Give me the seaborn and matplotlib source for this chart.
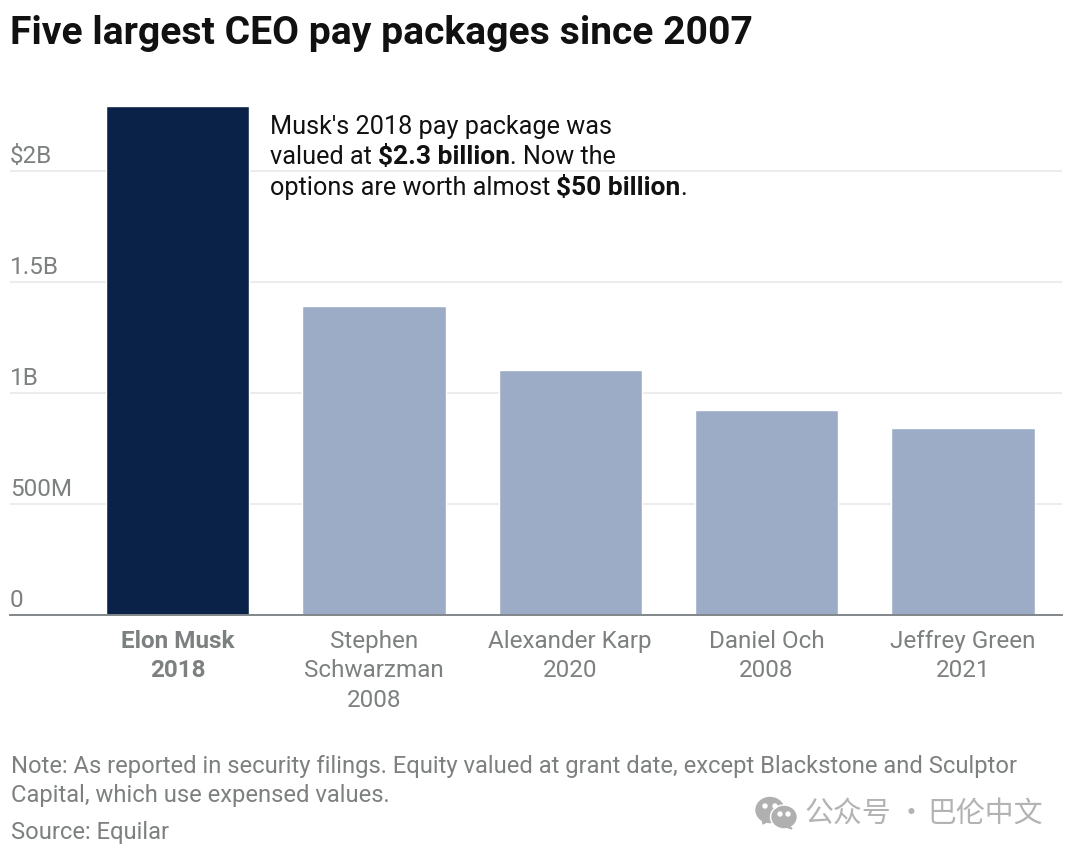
import matplotlib
matplotlib.use("Agg")
import matplotlib.pyplot as plt
import seaborn as sns
from matplotlib.patches import Ellipse, Polygon
from matplotlib.transforms import ScaledTranslation

names = ["Elon Musk\n2018", "Stephen\nSchwarzman\n2008", "Alexander Karp\n2020", "Daniel Och\n2008", "Jeffrey Green\n2021"]
pay_billions = [2.29, 1.39, 1.103, 0.923, 0.84]
bar_colors = ["#0a2247", "#9dacc6", "#9dacc6", "#9dacc6", "#9dacc6"]
y_ticks = [0, 0.5, 1, 1.5, 2]
y_labels = ["0", "500M", "1B", "1.5B", "$2B"]

title = "Five largest CEO pay packages since 2007"
note_lines = [
    "Note: As reported in security filings. Equity valued at grant date, except Blackstone and Sculptor",
    "Capital, which use expensed values.",
]
source = "Source: Equilar"
callout = [
    [("Musk's 2018 pay package was", "normal")],
    [("valued at ", "normal"), ("$2.3 billion", "bold"), (". Now the", "normal")],
    [("options are worth almost ", "normal"), ("$50 billion", "bold"), (".", "normal")],
]
watermark_parts = ["公众号", "·", "巴伦中文"]

GREY = "#7d8080"
W, H = 1080, 856
sns.set_theme(style="white")
plt.rcParams["font.family"] = ["Roboto", "DejaVu Sans"]

fig = plt.figure(figsize=(W / 100, H / 100), dpi=100, facecolor="white")

# axes box in pixels: x 10-1062, y 90-614.5, 222px per billion
ax = fig.add_axes([10 / W, 1 - 614.5 / H, 1052 / W, 524.5 / H])
sns.barplot(x=names, y=pay_billions, hue=names, palette=bar_colors, width=0.73,
            saturation=1, legend=False, ax=ax, zorder=3)
ax.set_xlim(-0.854, 4.505)
ax.set_ylim(0, 524.5 / 222)
ax.set_facecolor("none")

ax.set_yticks(y_ticks)
ax.set_yticklabels(y_labels)
ax.yaxis.grid(True, color="#e8eaec", linewidth=1.3, zorder=0)
ax.set_axisbelow(True)
ax.tick_params(axis="y", length=0, pad=0, labelsize=17.5, labelcolor=GREY)
lift = ScaledTranslation(0, 2 / 72, fig.dpi_scale_trans)
for lab in ax.get_yticklabels():
    lab.set_ha("left")
    lab.set_va("bottom")
    lab.set_transform(lab.get_transform() + lift)
ax.tick_params(axis="x", length=0, pad=11, labelsize=17.5, labelcolor=GREY)
for i, lab in enumerate(ax.get_xticklabels()):
    lab.set_linespacing(1.37)
    if i == 0:
        lab.set_fontweight("bold")

for side in ["top", "left", "right"]:
    ax.spines[side].set_visible(False)
ax.spines["bottom"].set_color("#80868a")
ax.spines["bottom"].set_linewidth(1.4)
ax.spines["bottom"].set_zorder(5)

# overlay in pixel coordinates for the free text
page = fig.add_axes([0, 0, 1, 1])
page.set_xlim(0, W)
page.set_ylim(H, 0)
page.axis("off")
page.patch.set_alpha(0)

page.text(10, 44, title, fontsize=28.1, fontweight="bold", color="#111111")
for line, y in zip(note_lines, [773, 802]):
    page.text(11, y, line, fontsize=17.1, color=GREY)
page.text(11, 839, source, fontsize=17.1, color=GREY)

fig.canvas.draw()
renderer = fig.canvas.get_renderer()
for parts, y in zip(callout, [134, 164, 195]):
    x = 270
    for chunk, weight in parts:
        size = 19 if weight == "bold" else 18.15
        t = page.text(x, y, chunk, fontsize=size, fontweight=weight, color="#111111")
        x += t.get_window_extent(renderer).width

# WeChat mark
mark = "#b0b0b0"
page.add_patch(Ellipse((770, 810), 28, 25, color=mark))
page.add_patch(Polygon([[762, 818], [763, 824], [770, 820]], color=mark))
page.add_patch(Ellipse((784, 817), 27, 24, color="white"))
page.add_patch(Ellipse((784, 817), 24, 21, color=mark))
page.add_patch(Polygon([[788, 824], [792, 829], [780, 825]], color=mark))
for cx, cy in [[765, 806], [775, 806], [780, 814], [788, 814]]:
    page.add_patch(Ellipse((cx, cy), 4, 4, color="white"))
for chunk, x in zip(watermark_parts, [805, 897, 927]):
    page.text(x, 814, chunk, fontsize=20.8, color="#b3b3b3", va="center",
              family=["Noto Sans CJK SC", "DejaVu Sans"])

fig.savefig("out.png", dpi=100)
